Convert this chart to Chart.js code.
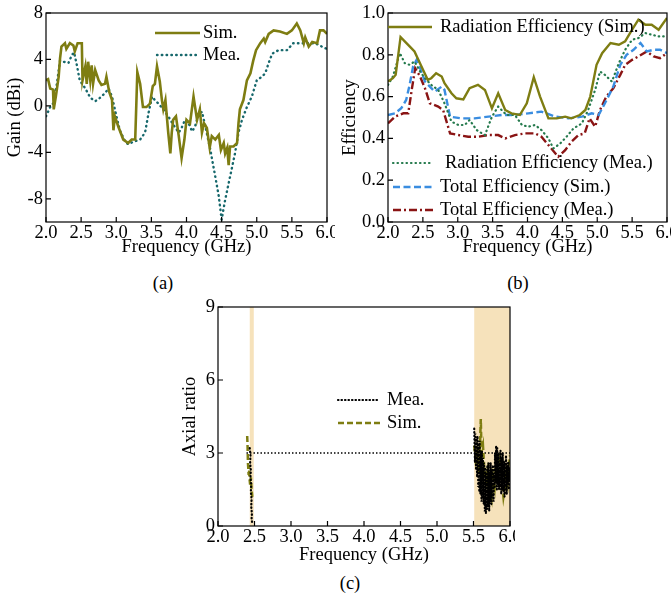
<!DOCTYPE html>
<html>
<head>
<meta charset="utf-8">
<script src="https://cdn.jsdelivr.net/npm/chart.js@4.4.0/dist/chart.umd.min.js"></script>
<style>
  body { margin: 0; background: #fff; width: 671px; height: 594px; position: relative; overflow: hidden; font-family: 'Liberation Serif', serif; }
  canvas { position: absolute; }
  .cap { position: absolute; font-size: 18.5px; transform: translate(-50%, -50%); color: #000; }
</style>
</head>
<body>
<canvas id="ca" width="335" height="258" style="left:0;top:0"></canvas>
<canvas id="cb" width="336" height="258" style="left:335px;top:0"></canvas>
<canvas id="cc" width="340" height="272" style="left:175px;top:294px"></canvas>
<div class="cap" style="left:163px;top:283px">(a)</div>
<div class="cap" style="left:518px;top:283px">(b)</div>
<div class="cap" style="left:350px;top:583px">(c)</div>
<script>
// tick labels
const freqTicks = [2.0, 2.5, 3.0, 3.5, 4.0, 4.5, 5.0, 5.5, 6.0];
const gainTicks = [-8, -4, 0, 4, 8];
const effTicks = [0, 0.2, 0.4, 0.6, 0.8, 1.0];
const arTicks = [0, 3, 6, 9];

// (a) gain
const gainSimF = [2.00,2.03,2.06,2.10,2.11,2.14,2.18,2.20,2.22,2.27,2.29,2.34,2.39,2.41,2.45,2.51,2.52,2.56,2.58,2.60,2.63,2.65,2.67,2.70,2.75,2.79,2.84,2.86,2.90,2.94,2.96,2.98,3.03,3.10,3.17,3.22,3.27,3.30,3.34,3.38,3.43,3.48,3.52,3.55,3.58,3.62,3.65,3.67,3.70,3.72,3.74,3.77,3.79,3.81,3.85,3.89,3.93,3.97,4.00,4.05,4.10,4.15,4.19,4.22,4.25,4.29,4.33,4.36,4.41,4.46,4.49,4.53,4.55,4.58,4.60,4.62,4.67,4.72,4.74,4.76,4.81,4.86,4.91,4.95,4.99,5.05,5.10,5.12,5.17,5.24,5.33,5.43,5.50,5.57,5.62,5.67,5.69,5.74,5.79,5.86,5.90,5.95,6.00];
const gainSim = [2.2,2.3,1.5,1.4,-0.3,0.8,2.5,4.1,5.1,5.4,4.9,5.4,5.2,4.7,5.4,5.4,2.2,3.4,1.9,3.8,2.2,3.5,1.9,3.1,2.2,1.8,1.9,2.5,1.2,0.5,-2.1,-0.9,-1.8,-2.9,-3.2,-2.9,-2.9,2.9,1.9,-0.1,-0.1,0.2,1.7,1.9,3.4,2.1,0.5,-0.3,0.5,-0.9,-2.3,-4.1,-2.3,-1.2,-0.9,-2.6,-4.5,-2.9,-1.2,-1.5,0.8,-1.2,-0.3,-2.3,-1.5,-1.9,-3.6,-2.6,-2.9,-2.5,-3.8,-3.2,-4.1,-3.6,-5.1,-3.5,-3.5,-3.2,-1.5,-0.3,0.5,2.2,2.8,3.9,4.8,5.4,5.8,5.5,6.2,6.5,6.4,6.2,6.5,7.1,6.5,5.4,5.9,5.1,5.5,5.4,6.5,6.5,6.2];
const gainMeaF = [2.00,2.06,2.10,2.15,2.20,2.25,2.32,2.37,2.40,2.44,2.48,2.56,2.63,2.70,2.77,2.84,2.89,2.94,2.98,3.05,3.13,3.17,3.24,3.34,3.41,3.46,3.51,3.55,3.60,3.67,3.74,3.81,3.89,3.93,3.98,4.03,4.08,4.12,4.17,4.22,4.27,4.34,4.41,4.46,4.50,4.55,4.62,4.69,4.74,4.79,4.86,4.93,5.00,5.07,5.12,5.17,5.22,5.31,5.43,5.52,5.62,5.71,5.83,5.93,6.00];
const gainMea = [-0.9,-0.1,0.2,1.7,3.9,3.8,3.7,4.4,4.6,3.5,2.2,1.5,0.7,0.4,0.7,1.1,1.5,0.8,-0.3,-2.1,-3.1,-3.3,-3.1,-2.9,-2.3,-0.6,0.8,0.5,0.2,-0.3,-0.9,-1.6,-2.3,-1.9,-1.2,-1.5,-2.2,-1.8,-0.8,-0.5,-1.8,-3.8,-6.1,-7.8,-9.8,-8.1,-6.1,-4.1,-2.3,-1.2,-0.1,0.8,2.2,2.5,2.8,3.7,4.5,4.8,4.8,5.4,5.4,5.4,5.4,5.1,4.9];

// (b) efficiency
const effRadSimF = [2.00,2.07,2.11,2.18,2.24,2.31,2.38,2.48,2.57,2.62,2.69,2.77,2.81,2.91,2.98,3.08,3.17,3.29,3.39,3.49,3.58,3.68,3.77,3.89,3.99,4.09,4.18,4.30,4.42,4.54,4.63,4.75,4.83,4.90,4.99,5.07,5.19,5.31,5.40,5.50,5.59,5.69,5.78,5.88,6.00];
const effRadSim = [0.672,0.688,0.704,0.885,0.864,0.84,0.816,0.744,0.68,0.688,0.712,0.696,0.664,0.616,0.592,0.587,0.64,0.656,0.632,0.544,0.616,0.536,0.52,0.512,0.568,0.693,0.6,0.496,0.496,0.504,0.496,0.512,0.536,0.6,0.752,0.808,0.856,0.848,0.864,0.92,0.968,0.944,0.944,0.92,0.976];
const effRadMeaF = [2.00,2.07,2.17,2.24,2.31,2.38,2.46,2.53,2.62,2.72,2.81,2.91,3.01,3.10,3.17,3.27,3.39,3.49,3.58,3.70,3.82,3.92,4.01,4.11,4.20,4.30,4.37,4.47,4.56,4.66,4.78,4.87,4.97,5.04,5.11,5.21,5.31,5.40,5.50,5.59,5.69,5.78,5.88,6.00];
const effRadMea = [0.656,0.696,0.808,0.76,0.752,0.768,0.72,0.688,0.656,0.632,0.568,0.48,0.464,0.464,0.488,0.44,0.416,0.504,0.552,0.512,0.512,0.464,0.456,0.464,0.44,0.40,0.352,0.376,0.408,0.448,0.472,0.536,0.632,0.72,0.704,0.672,0.76,0.824,0.872,0.88,0.904,0.896,0.888,0.888];
const effTotSimF = [2.00,2.10,2.19,2.26,2.31,2.36,2.41,2.46,2.53,2.60,2.67,2.77,2.81,2.89,3.05,3.24,3.44,3.63,3.82,4.01,4.20,4.40,4.59,4.78,4.92,5.02,5.11,5.23,5.33,5.42,5.52,5.62,5.71,5.81,5.90,6.00];
const effTotSim = [0.512,0.52,0.544,0.584,0.656,0.744,0.776,0.736,0.672,0.648,0.624,0.648,0.632,0.504,0.496,0.496,0.504,0.512,0.512,0.52,0.528,0.504,0.496,0.504,0.52,0.512,0.568,0.648,0.752,0.80,0.824,0.856,0.816,0.824,0.824,0.808];
const effTotMeaF = [2.00,2.10,2.22,2.29,2.34,2.39,2.46,2.53,2.60,2.72,2.79,2.89,3.01,3.15,3.29,3.44,3.58,3.68,3.82,3.97,4.11,4.20,4.32,4.44,4.54,4.63,4.73,4.82,4.89,4.97,5.04,5.13,5.23,5.33,5.40,5.50,5.59,5.71,5.81,5.90,6.00];
const effTotMea = [0.472,0.504,0.52,0.52,0.632,0.736,0.696,0.64,0.568,0.552,0.536,0.424,0.416,0.408,0.408,0.416,0.416,0.40,0.416,0.424,0.424,0.408,0.36,0.312,0.344,0.384,0.416,0.424,0.496,0.456,0.536,0.60,0.64,0.704,0.752,0.776,0.792,0.816,0.792,0.784,0.808];

// (c) axial ratio
const arSimB1F = [2.40,2.405,2.41,2.42,2.425,2.43,2.44,2.45,2.46,2.47];
const arSimB1 = [3.7,3.3,2.6,2.1,2.5,2.0,1.7,2.0,1.5,1.2];
const arMeaB1F = [2.435,2.445,2.44,2.45,2.445,2.455,2.45,2.46,2.455,2.465,2.46,2.47];
const arMeaB1 = [3.2,2.9,2.6,2.3,2.0,1.7,1.4,1.1,0.8,0.5,0.3,0.1];
const arSimB2F = [5.51,5.53,5.55,5.57,5.59,5.60,5.61,5.63,5.65,5.67,5.69,5.71,5.73,5.75,5.77,5.79,5.81,5.83,5.85,5.87,5.89,5.91,5.93,5.95,5.97,5.99,6.00];
const arSimB2 = [3.3,2.7,3.0,2.2,3.4,4.4,3.0,3.3,2.2,1.8,2.2,1.4,1.6,1.2,2.0,1.6,2.6,2.2,3.0,2.4,1.8,1.2,1.6,2.2,1.8,2.6,2.9];
const arMeaB2F = [5.51,5.52,5.525,5.535,5.54,5.55,5.555,5.565,5.57,5.58,5.585,5.595,5.60,5.61,5.615,5.625,5.63,5.64,5.645,5.655,5.66,5.67,5.675,5.685,5.69,5.70,5.705,5.715,5.72,5.73,5.735,5.745,5.75,5.76,5.765,5.775,5.78,5.79,5.795,5.805,5.81,5.82,5.825,5.835,5.84,5.85,5.855,5.865,5.87,5.88,5.885,5.895,5.90,5.91,5.915,5.925,5.93,5.94,5.945,5.955,5.96,5.97,5.975,5.985,5.99,6.00];
const arMeaB2 = [4.0,2.6,3.8,2.3,3.6,2.0,3.7,1.6,3.4,1.4,3.5,1.3,3.0,1.0,3.1,1.2,2.8,0.9,2.6,0.6,2.4,0.5,2.2,0.7,2.5,0.8,2.6,0.6,2.2,1.0,2.6,0.9,2.3,1.2,2.5,1.0,2.1,1.6,3.0,1.8,3.3,1.5,3.2,1.7,3.0,1.5,2.6,1.6,3.1,1.3,2.8,1.5,3.0,1.4,2.7,1.2,2.6,1.6,2.9,1.3,2.5,1.7,2.6,1.5,2.4,1.9];
const arRefF = [2.39, 6.0];
const arRef = [3, 3];
const arBands = [[2.435, 2.49], [5.51, 6.0]];

const pts = (xs, ys) => xs.map((x, i) => ({ x, y: ys[i] }));
const font = { family: "'Liberation Serif', serif", size: 18.5 };
Chart.defaults.color = '#000';

const frame = {
  id: 'frame',
  beforeDatasetsDraw(chart, args, o) {
    const { ctx, chartArea: a, scales: { x } } = chart;
    (o.bands || []).forEach(b => {
      const x1 = x.getPixelForValue(b[0]), x2 = x.getPixelForValue(b[1]);
      ctx.save();
      ctx.fillStyle = '#f6e2bb';
      ctx.fillRect(x1, a.top, x2 - x1, a.bottom - a.top);
      ctx.restore();
    });
  },
  afterDatasetsDraw(chart, args, o) {
    const { ctx, chartArea: a, scales: { x, y } } = chart;
    ctx.save();
    ctx.strokeStyle = '#000';
    ctx.lineWidth = 1.2;
    ctx.strokeRect(a.left, a.top, a.right - a.left, a.bottom - a.top);
    ctx.beginPath();
    x.ticks.forEach(t => { const p = x.getPixelForValue(t.value); ctx.moveTo(p, a.bottom); ctx.lineTo(p, a.bottom - 5); });
    y.ticks.forEach(t => { const p = y.getPixelForValue(t.value); ctx.moveTo(a.left, p); ctx.lineTo(a.left + 5, p); });
    ctx.stroke();
    ctx.font = "18.5px 'Liberation Serif'";
    ctx.textBaseline = 'middle';
    ctx.fillStyle = '#000';
    (o.legend || []).forEach(it => {
      const ds = chart.data.datasets[it.ds];
      ctx.save();
      ctx.strokeStyle = ds.borderColor;
      ctx.lineWidth = ds.borderWidth;
      ctx.setLineDash(ds.borderDash || []);
      ctx.lineCap = ds.borderCapStyle || 'butt';
      ctx.beginPath();
      ctx.moveTo(it.x1, it.y);
      ctx.lineTo(it.x2, it.y);
      ctx.stroke();
      ctx.restore();
      ctx.fillText(it.text || ds.label, it.tx, it.y);
    });
    ctx.restore();
  }
};

const xAxis = (h) => ({
  type: 'linear', min: 2, max: 6,
  afterBuildTicks: s => { s.ticks = freqTicks.map(v => ({ value: v })); },
  afterFit: s => { s.height = h; s.paddingLeft = 0; s.paddingRight = 0; },
  grid: { display: false, drawTicks: false }, border: { display: false },
  ticks: { padding: 0, font, color: '#000', maxRotation: 0, autoSkip: false, callback: v => v.toFixed(1) },
  title: { display: true, text: 'Frequency (GHz)', font, color: '#000', padding: 0 }
});

const yAxis = (w, min, max, list, fmt, title) => ({
  type: 'linear', min, max,
  afterBuildTicks: s => { s.ticks = list.map(v => ({ value: v })); },
  afterFit: s => { s.width = w; s.paddingTop = 0; s.paddingBottom = 0; },
  grid: { display: false, drawTicks: false }, border: { display: false },
  ticks: { padding: 3, font, color: '#000', autoSkip: false, callback: fmt },
  title: { display: true, text: title, font, color: '#000', padding: { top: 4, bottom: 0 } }
});

const line = (label, data, color, width, dash, cap) => ({
  label, data, borderColor: color, borderWidth: width, borderDash: dash || [],
  borderCapStyle: cap || 'butt', pointRadius: 0, fill: false, tension: 0
});

const base = (datasets, scales, padding, frameOpts) => ({
  type: 'line',
  data: { datasets },
  options: {
    responsive: false,
    animation: false,
    layout: { padding },
    plugins: { legend: { display: false }, tooltip: { enabled: false }, frame: frameOpts },
    scales
  },
  plugins: [frame]
});

new Chart(document.getElementById('ca'), base([
  line('Sim.', pts(gainSimF, gainSim), '#7e7d12', 2.6),
  line('Mea.', pts(gainMeaF, gainMea), '#17686c', 2.4, [0.5, 4.3], 'round')
], {
  x: xAxis(36),
  y: yAxis(46, -10, 8, gainTicks, v => String(v), 'Gain (dBi)')
}, { top: 13, right: 8, left: 0, bottom: 0 }, {
  legend: [
    { ds: 0, x1: 155, x2: 200, y: 33, tx: 203 },
    { ds: 1, x1: 157, x2: 198, y: 55, tx: 203 }
  ]
}));

new Chart(document.getElementById('cb'), base([
  line('Radiation Efficiency (Sim.)', pts(effRadSimF, effRadSim), '#7e7d12', 2.4),
  line('Radiation Efficiency (Mea.)', pts(effRadMeaF, effRadMea), '#257a4d', 2.2, [0.5, 4], 'round'),
  line('Total Efficiency (Sim.)', pts(effTotSimF, effTotSim), '#3a8de0', 2.4, [7, 3.5]),
  line('Total Efficiency (Mea.)', pts(effTotMeaF, effTotMea), '#8a1414', 2.4, [8, 3, 2, 3])
], {
  x: xAxis(36),
  y: yAxis(53, 0, 1, effTicks, v => v.toFixed(1), 'Efficiency')
}, { top: 13, right: 4, left: 0, bottom: 0 }, {
  legend: [
    { ds: 0, x1: 53, x2: 97, y: 27, tx: 105 },
    { ds: 1, x1: 58, x2: 98, y: 163, tx: 110 },
    { ds: 2, x1: 58, x2: 100, y: 187, tx: 105 },
    { ds: 3, x1: 58, x2: 100, y: 210, tx: 105 }
  ]
}));

new Chart(document.getElementById('cc'), base([
  line('Mea.', pts(arMeaB2F, arMeaB2), '#000', 2.2, [0.5, 3], 'round'),
  line('Mea.', pts(arMeaB1F, arMeaB1), '#000', 2.2, [0.5, 3], 'round'),
  line('Sim.', pts(arSimB2F, arSimB2), '#7e7d12', 2.5, [6, 3]),
  line('Sim.', pts(arSimB1F, arSimB1), '#7e7d12', 2.5, [6, 3]),
  line('3 dB', pts(arRefF, arRef), '#000', 1.5, [1.5, 2])
], {
  x: xAxis(40),
  y: yAxis(43, 0, 9, arTicks, v => String(v), 'Axial ratio')
}, { top: 13, right: 5, left: 0, bottom: 0 }, {
  bands: arBands,
  legend: [
    { ds: 0, x1: 163, x2: 205, y: 106, tx: 212 },
    { ds: 2, x1: 163, x2: 205, y: 129, tx: 212 }
  ]
}));
</script>
</body>
</html>
